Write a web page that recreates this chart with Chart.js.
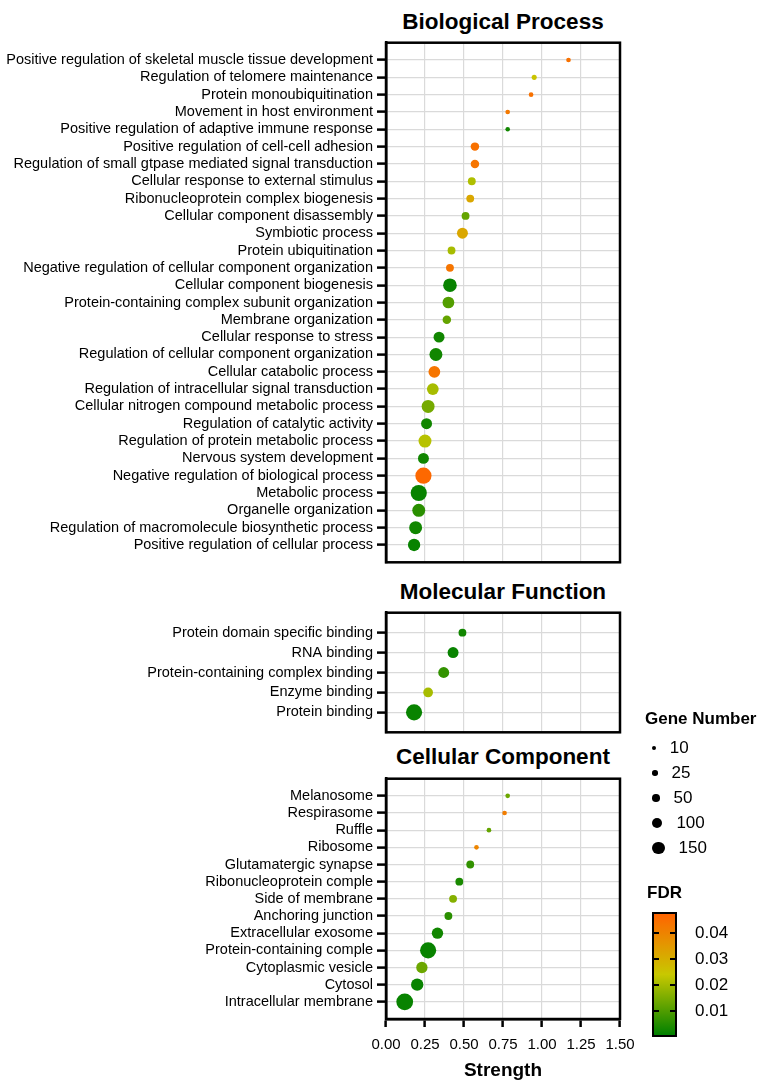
<!DOCTYPE html>
<html>
<head>
<meta charset="utf-8">
<script src="https://cdn.jsdelivr.net/npm/chart.js@4.4.1/dist/chart.umd.min.js"></script>
<style>
  html, body { margin: 0; padding: 0; background: #fff; }
  #wrap { position: relative; width: 772px; height: 1082px; font-family: "Liberation Sans", Arial, sans-serif; color: #000; overflow: hidden; }
  canvas { position: absolute; left: 0; }
  .title { position: absolute; left: 366px; width: 274px; text-align: center; font-weight: bold; font-size: 22.5px; line-height: 26px; white-space: nowrap; }
  .lgTitle { position: absolute; font-weight: bold; font-size: 17px; line-height: 20px; white-space: nowrap; }
  .lgText { position: absolute; font-size: 17px; line-height: 20px; white-space: nowrap; }
  .dot { position: absolute; background: #000; border-radius: 50%; }
  #bar { position: absolute; left: 652px; top: 912px; width: 25px; height: 125px; box-sizing: border-box; border: 2.5px solid #000; }
  .tk { position: absolute; height: 2.5px; width: 5px; background: #000; }
</style>
</head>
<body>
<div id="wrap">
  <div class="title" style="top:9px">Biological Process</div>
  <div class="title" style="top:579px">Molecular Function</div>
  <div class="title" style="top:744px">Cellular Component</div>
  <canvas id="bp" width="772" height="545" style="top:30px"></canvas>
  <canvas id="mf" width="772" height="145" style="top:600px"></canvas>
  <canvas id="cc" width="772" height="316" style="top:766px"></canvas>
  <div id="legend"></div>
</div>
<script>
const FONT = '"Liberation Sans", Arial, sans-serif';

// Biological Process
const bpTerms = [
  'Positive regulation of skeletal muscle tissue development',
  'Regulation of telomere maintenance',
  'Protein monoubiquitination',
  'Movement in host environment',
  'Positive regulation of adaptive immune response',
  'Positive regulation of cell-cell adhesion',
  'Regulation of small gtpase mediated signal transduction',
  'Cellular response to external stimulus',
  'Ribonucleoprotein complex biogenesis',
  'Cellular component disassembly',
  'Symbiotic process',
  'Protein ubiquitination',
  'Negative regulation of cellular component organization',
  'Cellular component biogenesis',
  'Protein-containing complex subunit organization',
  'Membrane organization',
  'Cellular response to stress',
  'Regulation of cellular component organization',
  'Cellular catabolic process',
  'Regulation of intracellular signal transduction',
  'Cellular nitrogen compound metabolic process',
  'Regulation of catalytic activity',
  'Regulation of protein metabolic process',
  'Nervous system development',
  'Negative regulation of biological process',
  'Metabolic process',
  'Organelle organization',
  'Regulation of macromolecule biosynthetic process',
  'Positive regulation of cellular process'
];
const bpStrength = [1.17, 0.95, 0.93, 0.78, 0.78, 0.57, 0.57, 0.55, 0.54, 0.51, 0.49, 0.42, 0.41, 0.41,
  0.40, 0.39, 0.34, 0.32, 0.31, 0.30, 0.27, 0.26, 0.25, 0.24, 0.24, 0.21, 0.21, 0.19, 0.18];
const bpGenes = [16, 20, 16, 16, 15, 64, 64, 54, 54, 54, 112, 54, 54, 178,
  130, 64, 112, 160, 130, 130, 160, 112, 160, 112, 256, 256, 160, 160, 144];
const bpFdr = [0.045, 0.025, 0.045, 0.043, 0.002, 0.045, 0.044, 0.021, 0.032, 0.012, 0.032, 0.020, 0.044, 0.001,
  0.010, 0.012, 0.002, 0.002, 0.044, 0.020, 0.014, 0.002, 0.022, 0.002, 0.047, 0.001, 0.005, 0.002, 0.001];

// Molecular Function
const mfTerms = ['Protein domain specific binding', 'RNA binding', 'Protein-containing complex binding', 'Enzyme binding', 'Protein binding'];
const mfStrength = [0.49, 0.43, 0.37, 0.27, 0.18];
const mfGenes = [54, 112, 112, 87, 256];
const mfFdr = [0.002, 0.001, 0.006, 0.020, 0.001];

// Cellular Component
const ccTerms = ['Melanosome', 'Respirasome', 'Ruffle', 'Ribosome', 'Glutamatergic synapse', 'Ribonucleoprotein comple',
  'Side of membrane', 'Anchoring junction', 'Extracellular exosome', 'Protein-containing comple',
  'Cytoplasmic vesicle', 'Cytosol', 'Intracellular membrane'];
const ccStrength = [0.78, 0.76, 0.66, 0.58, 0.54, 0.47, 0.43, 0.40, 0.33, 0.27, 0.23, 0.20, 0.12];
const ccGenes = [16, 16, 16, 16, 54, 54, 54, 54, 121, 256, 121, 144, 278];
const ccFdr = [0.013, 0.042, 0.012, 0.040, 0.006, 0.003, 0.016, 0.005, 0.002, 0.001, 0.013, 0.001, 0.001];

const xTicks = [0, 0.25, 0.5, 0.75, 1.0, 1.25, 1.5];
const sizeLegend = [10, 25, 50, 100, 150];
const fdrTicks = [0.04, 0.03, 0.02, 0.01];
const fdrMax = 0.048;

function geneRadius(n) {
  return 0.4 + 0.48 * Math.sqrt(n);
}

const stops = [[0, [0, 128, 0]], [0.024, [200, 200, 0]], [0.048, [255, 100, 0]]];
function fdrColor(f) {
  for (let i = 1; i < stops.length; i++) {
    if (f <= stops[i][0] || i === stops.length - 1) {
      const a = stops[i - 1], b = stops[i];
      const t = Math.max(0, Math.min(1, (f - a[0]) / (b[0] - a[0])));
      const c = a[1].map((v, k) => Math.round(v + (b[1][k] - v) * t));
      return 'rgb(' + c.join(',') + ')';
    }
  }
}

const boxPlugin = {
  id: 'box',
  afterDraw(chart) {
    const a = chart.chartArea, ctx = chart.ctx;
    ctx.save();
    ctx.strokeStyle = '#000';
    ctx.lineWidth = 2.5;
    ctx.strokeRect(a.left, a.top, a.right - a.left, a.bottom - a.top);
    ctx.restore();
  }
};

function makePanel(id, terms, strength, genes, fdr, showX) {
  const rows = terms.length;
  return new Chart(document.getElementById(id), {
    type: 'scatter',
    data: {
      datasets: [{
        data: strength.map((s, i) => ({ x: s, y: i })),
        pointRadius: c => geneRadius(genes[c.dataIndex]),
        pointHoverRadius: c => geneRadius(genes[c.dataIndex]),
        pointBackgroundColor: c => fdrColor(fdr[c.dataIndex]),
        pointBorderWidth: 0
      }]
    },
    options: {
      responsive: false,
      animation: false,
      devicePixelRatio: 1,
      events: [],
      layout: { padding: { left: 0, right: 152, top: 12, bottom: showX ? 0 : 9 } },
      plugins: { legend: { display: false }, tooltip: { enabled: false } },
      scales: {
        x: {
          type: 'linear', min: 0, max: 1.5,
          afterBuildTicks: s => { s.ticks = xTicks.map(v => ({ value: v })); },
          afterFit: s => { s.height = showX ? 63 : 0; },
          grid: { color: '#dadada', lineWidth: 1.2, drawTicks: showX, tickLength: 8, tickWidth: 2.5, tickColor: '#000' },
          border: { display: showX, color: '#000', width: 2.5 },
          ticks: { display: showX, color: '#000', font: { size: 15, family: FONT }, padding: 9, maxRotation: 0,
            callback: v => Number(v).toFixed(2) },
          title: { display: showX, text: 'Strength', color: '#000', font: { size: 19, weight: 'bold', family: FONT },
            padding: { top: 0, bottom: 0 } }
        },
        y: {
          type: 'linear', reverse: true, min: -1, max: rows,
          afterBuildTicks: s => {
            const t = [];
            for (let v = -1; v <= rows; v++) t.push({ value: v });
            s.ticks = t;
          },
          afterFit: s => { s.width = 386; },
          grid: { color: '#dadada', lineWidth: 1.2, tickLength: 9, tickWidth: 2.5,
            tickColor: c => (c.tick && c.tick.value >= 0 && c.tick.value < rows) ? '#000' : 'rgba(0,0,0,0)' },
          border: { color: '#000', width: 2.5 },
          ticks: { autoSkip: false, color: '#000', font: { size: 14.5, family: FONT }, padding: 4,
            callback: v => (terms[v] !== undefined ? terms[v] : '') }
        }
      }
    },
    plugins: [boxPlugin]
  });
}

makePanel('bp', bpTerms, bpStrength, bpGenes, bpFdr, false);
makePanel('mf', mfTerms, mfStrength, mfGenes, mfFdr, false);
makePanel('cc', ccTerms, ccStrength, ccGenes, ccFdr, true);

// legend (HTML)
const lg = document.getElementById('legend');
let html = '<div class="lgTitle" style="left:645px;top:709px">Gene Number</div>';
const rowY = [748, 773, 798, 823, 848];
sizeLegend.forEach((n, i) => {
  const r = geneRadius(n);
  html += '<div class="dot" style="left:652px;top:' + (rowY[i] - r) + 'px;width:' + (2 * r) + 'px;height:' + (2 * r) + 'px"></div>';
  html += '<div class="lgText" style="left:' + (652 + 2 * r + 14) + 'px;top:' + (rowY[i] - 10) + 'px">' + n + '</div>';
});
html += '<div class="lgTitle" style="left:647px;top:883px">FDR</div>';
const gStops = [];
for (let k = 0; k <= 12; k++) {
  const f = fdrMax * (1 - k / 12);
  gStops.push(fdrColor(f) + ' ' + (k / 12 * 100).toFixed(1) + '%');
}
html += '<div id="bar" style="background:linear-gradient(to bottom,' + gStops.join(',') + ')"></div>';
fdrTicks.forEach(f => {
  const y = 912 + (fdrMax - f) / fdrMax * 125;
  html += '<div class="tk" style="left:654px;top:' + (y - 1.25) + 'px"></div>';
  html += '<div class="tk" style="left:670px;top:' + (y - 1.25) + 'px"></div>';
  html += '<div class="lgText" style="left:695px;top:' + (y - 10) + 'px">' + f.toFixed(2) + '</div>';
});
lg.innerHTML = html;
</script>
</body>
</html>
